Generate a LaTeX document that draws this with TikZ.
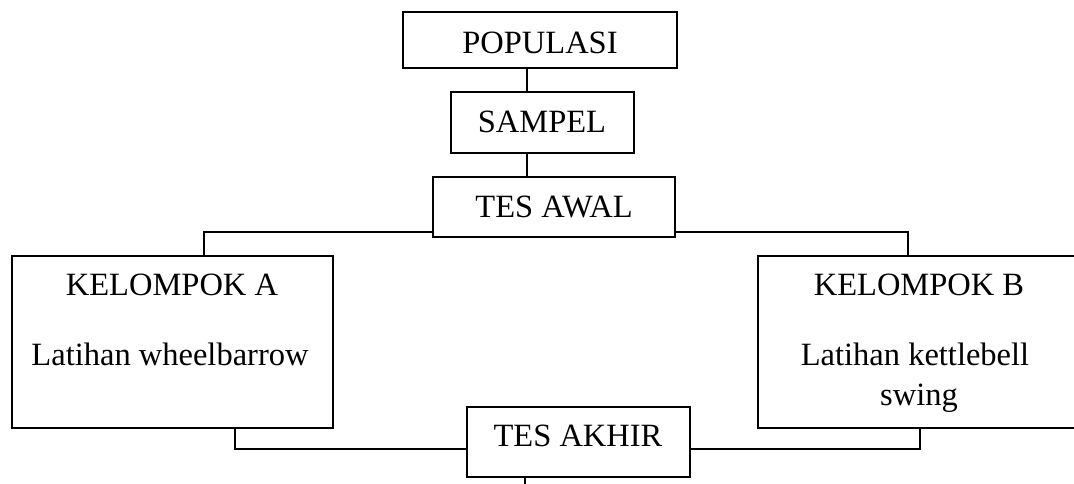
\documentclass[tikz,border=0pt]{standalone}
\usepackage{fontspec}
\setmainfont{Liberation Serif}
\begin{document}
\begin{tikzpicture}[x=1pt,y=-1pt,
  box/.style={draw=black,line width=1.4pt,rectangle,inner sep=0pt,outer sep=0pt},
  lbl/.style={anchor=base,inner sep=0pt,font=\fontsize{32.5}{39}\selectfont},
  conn/.style={draw=black,line width=1.4pt}]
\useasboundingbox (0,0) rectangle (1074,483);
\clip (0,0) rectangle (1074,483);
% boxes
\node[box,minimum width=274pt,minimum height=56pt] (pop) at (540,40) {};
\node[box,minimum width=183pt,minimum height=61pt] (samp) at (542.5,122.5) {};
\node[box,minimum width=242pt,minimum height=60pt] (awal) at (554,207) {};
\node[box,minimum width=321pt,minimum height=172pt] (kela) at (172.5,342) {};
\node[box,minimum width=320pt,minimum height=172pt] (kelb) at (918,342) {};
\node[box,minimum width=223pt,minimum height=70pt] (akhir) at (578.5,442) {};
% texts
\node[lbl] (tpop) at (540,53) {POPULASI};
\node[lbl] (tsamp) at (542,132) {SAMPEL};
\node[lbl] (tawal) at (554,217) {TES AWAL};
\node[lbl] (tkela) at (172,295) {KELOMPOK A};
\node[lbl] (tlata) at (170,365) {Latihan wheelbarrow};
\node[lbl] (tkelb) at (919,295) {KELOMPOK B};
\node[lbl] (tlatb) at (915,365) {Latihan kettlebell};
\node[lbl] (tswing) at (919,405) {swing};
\node[lbl] (takhir) at (578,446) {TES AKHIR};
% helper coordinates
\coordinate (cx) at (527,0);
\coordinate (ya) at (0,232);
\coordinate (jl) at (204,232);
\coordinate (jr) at (908,232);
\coordinate (yb) at (0,449);
\coordinate (bl) at (235,449);
\coordinate (br) at (920,449);
\coordinate (st) at (525,478);
\coordinate (sb) at (525,490);
% connectors
\draw[conn] (pop.south -| cx) -- (samp.north -| cx);
\draw[conn] (samp.south -| cx) -- (awal.north -| cx);
\draw[conn] (awal.west |- ya) -- (jl) -- (kela.north -| jl);
\draw[conn] (awal.east |- ya) -- (jr) -- (kelb.north -| jr);
\draw[conn] (kela.south -| bl) -- (bl) -- (akhir.west |- yb);
\draw[conn] (kelb.south -| br) -- (br) -- (akhir.east |- yb);
\draw[conn] (st) -- (sb);
\end{tikzpicture}
\end{document}
